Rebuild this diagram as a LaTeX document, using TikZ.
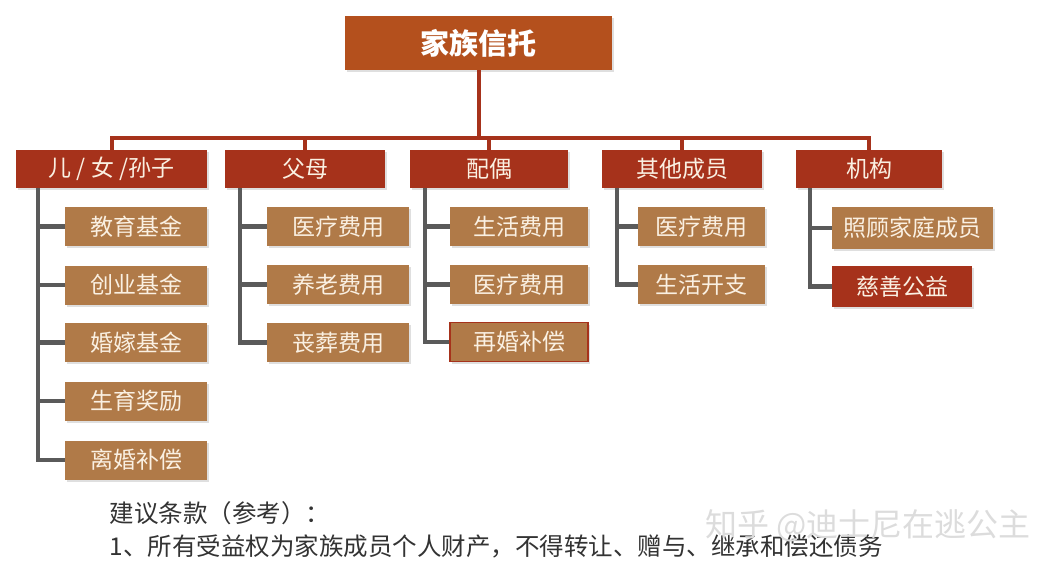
\documentclass[tikz,border=0pt]{standalone}
\usepackage{fontspec}
\setmainfont{Noto Sans CJK SC}
\usepackage{tikz}
\usetikzlibrary{positioning, shadows}
\definecolor{titlefill}{HTML}{B4501D}
\definecolor{catfill}{HTML}{A6321B}
\definecolor{itemfill}{HTML}{B07A48}
\definecolor{itemtext}{HTML}{FAF0E2}
\definecolor{trunk}{HTML}{5A5A5A}
\definecolor{bodytext}{HTML}{333333}
\definecolor{mark}{HTML}{DCDCDC}

\begin{document}
\begin{tikzpicture}[x=1pt, y=-1pt,
    box/.style={draw=none, inner sep=0pt,
      drop shadow={shadow xshift=2pt, shadow yshift=-2pt, opacity=0.25}},
    titlebox/.style={box, fill=titlefill, text=white,
      minimum width=267pt, minimum height=54pt,
      font=\fontsize{29}{31}\selectfont\bfseries},
    catbox/.style={box, fill=catfill, text=itemtext,
      minimum height=38pt, font=\fontsize{23}{26}\selectfont},
    itembox/.style={box, fill=itemfill, text=itemtext,
      minimum height=39pt, font=\fontsize{23}{26}\selectfont},
    redline/.style={draw=catfill, line width=4pt},
    grayline/.style={draw=trunk, line width=4.5pt}]
  \useasboundingbox (0,0) rectangle (1060,572);
  % Title
  \node[titlebox] (trust) at (478.5,43) {家族信托};
  % Beneficiary groups
  \node[catbox, minimum width=191pt] (kids) at (111.5,169) {儿 / 女 /孙子};
  \node[catbox, minimum width=160pt] (parents) at (305,169) {父母};
  \node[catbox, minimum width=158pt] (spouse) at (489,169) {配偶};
  \node[catbox, minimum width=160pt] (others) at (682,169) {其他成员};
  \node[catbox, minimum width=146pt] (org) at (869,169) {机构};
  % Children
  \node[itembox, minimum width=142pt] (edu) at (136,226.5) {教育基金};
  \node[itembox, minimum width=142pt] (startup) at (136,285) {创业基金};
  \node[itembox, minimum width=142pt] (wedding) at (136,342.5) {婚嫁基金};
  \node[itembox, minimum width=142pt] (birth) at (136,401) {生育奖励};
  \node[itembox, minimum width=142pt] (divorce) at (136,460) {离婚补偿};
  % Parents
  \node[itembox, minimum width=142pt] (pmed) at (338,226.5) {医疗费用};
  \node[itembox, minimum width=142pt] (pension) at (338,284.5) {养老费用};
  \node[itembox, minimum width=142pt] (funeral) at (338,342.5) {丧葬费用};
  % Spouse
  \node[itembox, minimum width=138pt] (living) at (519,226.5) {生活费用};
  \node[itembox, minimum width=138pt] (smed) at (519,284.5) {医疗费用};
  \node[itembox, minimum width=138pt, draw=catfill, line width=1.8pt]
    (remarry) at (519,342) {再婚补偿};
  % Other members
  \node[itembox, minimum width=127pt] (omed) at (701.5,226.5) {医疗费用};
  \node[itembox, minimum width=127pt] (spend) at (701.5,284.5) {生活开支};
  % Institutions
  \node[itembox, minimum width=161pt, minimum height=42pt] (care) at (912.5,228) {照顾家庭成员};
  \node[itembox, fill=catfill, minimum width=140pt, minimum height=41pt]
    (charity) at (902,286.5) {慈善公益};
  % Red bus
  \coordinate (bus) at (478.5,138);
  \draw[redline] (trust.south) -- (bus);
  \foreach \c in {kids, parents, spouse, others, org}
    \draw[redline] (\c.north) |- (bus);
  % Gray branches
  \foreach \i in {edu, startup, wedding, birth, divorce}
    \draw[grayline] ([xshift=22pt]kids.south west) |- (\i.west);
  \foreach \i in {pmed, pension, funeral}
    \draw[grayline] ([xshift=15pt]parents.south west) |- (\i.west);
  \foreach \i in {living, smed, remarry}
    \draw[grayline] ([xshift=15pt]spouse.south west) |- (\i.west);
  \foreach \i in {omed, spend}
    \draw[grayline] ([xshift=15pt]others.south west) |- (\i.west);
  \foreach \i in {care, charity}
    \draw[grayline] ([xshift=14pt]org.south west) |- (\i.west);
  % Notes
  \node[anchor=west, text=bodytext, font=\fontsize{24.5}{28}\selectfont]
    (note) at (106,513) {建议条款（参考）：};
  \node[anchor=west, text=bodytext, font=\fontsize{24.5}{28}\selectfont]
    (clause) at (106,546) {1、所有受益权为家族成员个人财产，不得转让、赠与、继承和偿还债务};
  \node[anchor=west, text=mark, font=\fontsize{32}{34}\selectfont]
    (wm) at (702,526) {知乎 @迪士尼在逃公主};
\end{tikzpicture}
\end{document}
